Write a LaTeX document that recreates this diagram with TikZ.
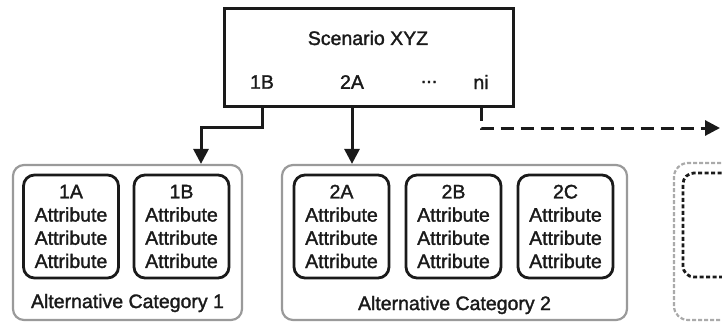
\documentclass[tikz,border=0pt]{standalone}
\usepackage{fontspec}
\setmainfont[FakeBold=1.6]{Liberation Sans}
\usetikzlibrary{arrows.meta}
\definecolor{outergray}{HTML}{9A9A9A}
\definecolor{lightgray2}{HTML}{AAAAAA}
\definecolor{ink}{HTML}{1A1A1A}
\tikzset{
  txt/.style={font=\fontsize{19.5}{23.2}\selectfont, text=ink, inner sep=0pt},
  topbox/.style={draw=ink, line width=3pt, minimum width=289pt, minimum height=98pt, inner sep=0pt},
  catbox/.style={draw=outergray, line width=2.2pt, rounded corners=11pt, inner sep=0pt},
  altbox/.style={draw=ink, line width=2.8pt, rounded corners=11pt, minimum width=95pt, minimum height=103pt, align=center, inner sep=0pt, font=\fontsize{19.5}{23.2}\selectfont, text=ink},
  conn/.style={draw=ink, line width=3pt, -{Triangle[length=15pt,width=15pt]}},
  dconn/.style={conn, dash pattern=on 13pt off 7pt},
  ghostouter/.style={draw=lightgray2, line width=2.2pt, rounded corners=14pt, dash pattern=on 4pt off 2pt},
  ghostinner/.style={draw=ink, line width=2.8pt, rounded corners=11pt, dash pattern=on 4pt off 2.5pt}
}
\begin{document}
\begin{tikzpicture}[x=1pt,y=-1pt]
\useasboundingbox (0,0) rectangle (722,322);
\clip (0,0) rectangle (722,322);
% top scenario box
\node[topbox] (top) at (368.5,57) {};
\node[txt] (title) at (368,38) {Scenario XYZ};
\node[txt] (s1B) at (262,82) {1B};
\node[txt] (s2A) at (352,82) {2A};
\node[txt] (sdots) at (429,82) {...};
\node[txt] (sni) at (481,82) {ni};
% category 1
\node[catbox, minimum width=229pt, minimum height=155pt] (cat1) at (127.5,242.5) {};
\node[altbox] (a1A) at (71,226.5) {1A\\Attribute\\Attribute\\Attribute};
\node[altbox] (a1B) at (181.5,226.5) {1B\\Attribute\\Attribute\\Attribute};
\node[txt] (cat1lbl) at (127.5,303) {Alternative Category 1};
% category 2
\node[catbox, minimum width=345pt, minimum height=155pt] (cat2) at (454.5,242.5) {};
\node[altbox] (a2A) at (341.5,226.5) {2A\\Attribute\\Attribute\\Attribute};
\node[altbox] (a2B) at (453.5,226.5) {2B\\Attribute\\Attribute\\Attribute};
\node[altbox] (a2C) at (565.5,226.5) {2C\\Attribute\\Attribute\\Attribute};
\node[txt] (cat2lbl) at (454.5,305) {Alternative Category 2};
% category 3 (partial, dashed)
\node[ghostouter, minimum width=229pt, minimum height=157pt] (cat3) at (788.5,241.5) {};
\node[ghostinner, minimum width=95pt, minimum height=104pt] (a3) at (730.5,225) {};
% connectors
\coordinate (c1) at (201,127);
\coordinate (c3) at (720,128);
\draw[conn] (s1B |- top.south) -- (s1B |- c1) -- (c1) -- (c1 |- cat1.north);
\draw[conn] (s2A |- top.south) -- (s2A |- cat2.north);
\draw[dconn] (sni |- top.south) -- (sni |- c3) -- (c3);
\end{tikzpicture}
\end{document}
